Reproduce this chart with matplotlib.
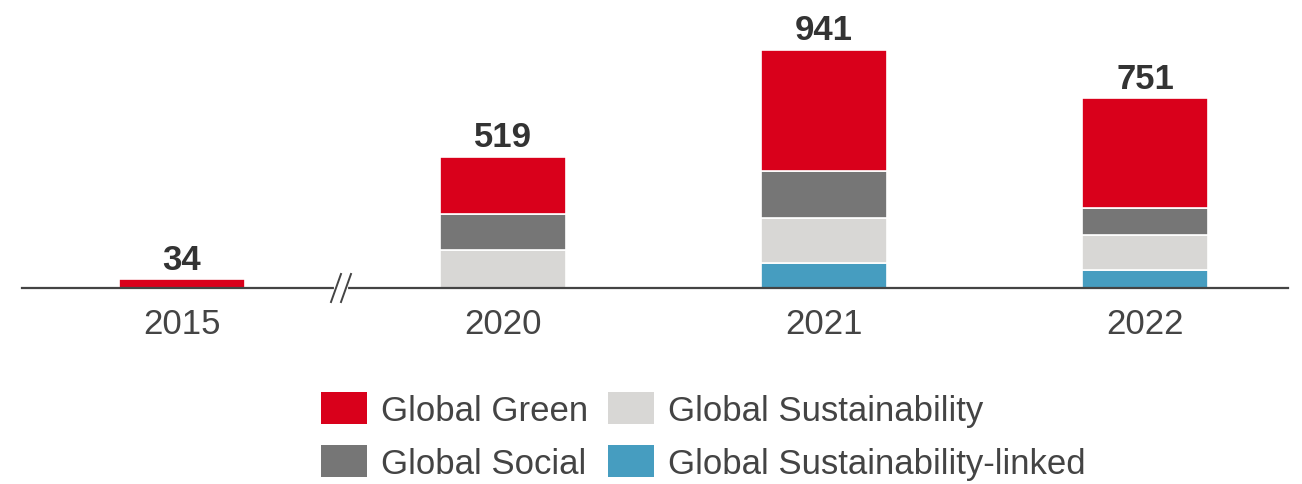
import matplotlib
matplotlib.use("Agg")
import matplotlib.pyplot as plt

years = ["2015", "2020", "2021", "2022"]
totals = [34, 519, 941, 751]
green = [34, 228, 478, 433]
social = [0, 139, 185, 108]
sustainability = [0, 152, 180, 138]
linked = [0, 0, 97, 71]

plt.rcParams["font.family"] = ["Liberation Sans", "DejaVu Sans"]

W, H = 1302, 485
fig = plt.figure(figsize=(W / 100, H / 100), dpi=100)
ax = fig.add_axes([22 / W, (H - 289) / H, (1288 - 22) / W, 289 / H])

x = list(range(len(years)))
bw = 126 / 321
c_green, c_social, c_sust, c_linked = "#D9001B", "#767676", "#D8D7D5", "#469DC0"

bottom = [0] * 4
handles = {}
for vals, col, lab in [(linked, c_linked, "Global Sustainability-linked"),
                       (sustainability, c_sust, "Global Sustainability"),
                       (social, c_social, "Global Social"),
                       (green, c_green, "Global Green")]:
    b = ax.bar(x, vals, bw, bottom=bottom, color=col, edgecolor="white",
               linewidth=1.2, label=lab, zorder=2)
    handles[lab] = b
    bottom = [bb + v for bb, v in zip(bottom, vals)]

for xi, t, top in zip(x, totals, bottom):
    ax.text(xi, top + 14, f"{t}", ha="center", va="bottom", fontsize=25,
            fontweight="bold", color="#333333")

ax.set_xlim((22 - 182) / 321, (1288 - 182) / 321)
ax.set_ylim(0, 289 * 941 / (289 - 50.7))
for s in ["top", "right", "left"]:
    ax.spines[s].set_visible(False)
ax.spines["bottom"].set_color("#444444")
ax.spines["bottom"].set_linewidth(1.6)
ax.spines["bottom"].set_zorder(3)
ax.set_yticks([])
ax.set_xticks(x)
ax.set_xticklabels(years, fontsize=25, color="#444444")
ax.tick_params(axis="x", length=0, pad=14)

# axis break
bx = (341 - 182) / 321
dx = 5 / 321
ymax = ax.get_ylim()[1]
ax.plot([bx - dx, bx + dx], [0, 0], color="white", lw=3, zorder=4, clip_on=False)
for off in (-dx, dx):
    ax.plot([bx + off - 5 / 321, bx + off + 5 / 321], [-14 / 289 * ymax, 14 / 289 * ymax],
            color="#444444", lw=1.4, zorder=5, clip_on=False)

order = ["Global Green", "Global Social", "Global Sustainability", "Global Sustainability-linked"]
leg = fig.legend([handles[o] for o in order], order, ncol=2, loc="upper left",
                 bbox_to_anchor=(290 / W, 1 - 362 / H), frameon=False, fontsize=25,
                 handlelength=1.33, handleheight=1.05, handletextpad=0.4,
                 columnspacing=0.55, labelspacing=0.5, labelcolor="#444444")
for p in leg.get_patches():
    p.set_edgecolor("none")

fig.savefig("out.png", dpi=100)
